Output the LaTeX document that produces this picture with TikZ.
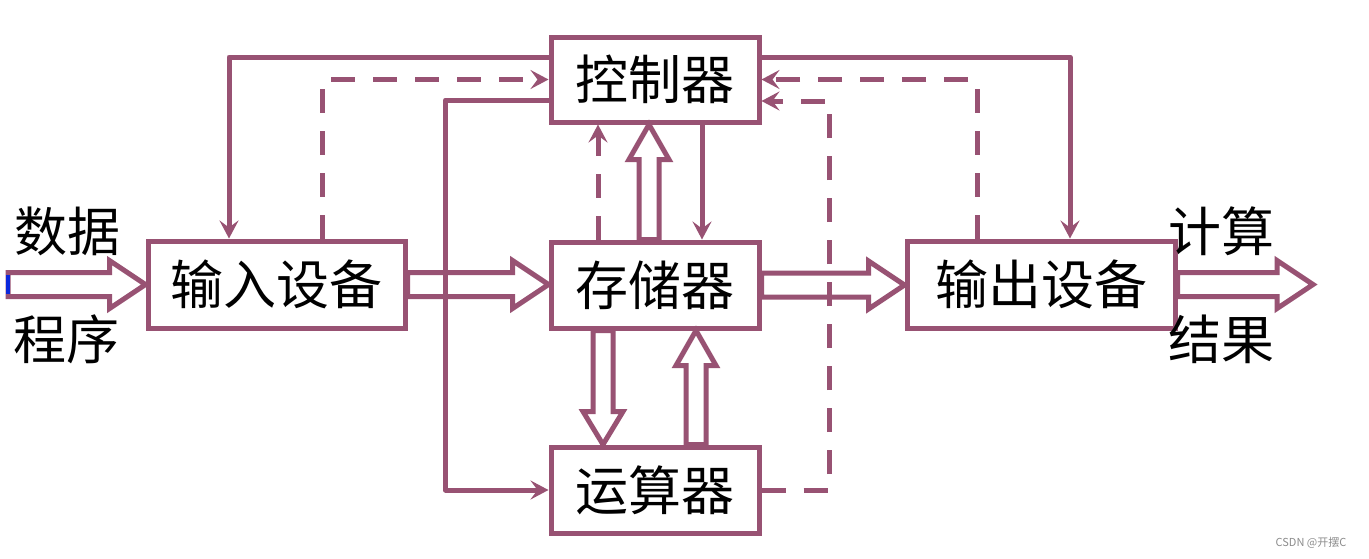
\documentclass[tikz,border=0pt]{standalone}
\usepackage{fontspec}
\newfontfamily\cjk{Noto Sans CJK SC}
\usetikzlibrary{arrows.meta,calc}
\definecolor{pl}{RGB}{152,82,115}
\definecolor{mk}{RGB}{10,40,220}
\tikzset{
  box/.style={draw=pl,line width=5pt,rectangle,inner sep=0pt,font=\cjk\fontsize{53}{56}\selectfont},
  lbl/.style={inner sep=0pt,font=\cjk\fontsize{53}{56}\selectfont},
  ln/.style={draw=pl,line width=5pt,line join=round},
  dsh/.style={ln,dash pattern=on 24pt off 18pt},
  tip/.style={-{Stealth[length=18pt,width=19pt,inset=7pt]}},
  hol/.style={draw=pl,line width=5pt,line join=miter}
}
\newcommand\harrow[2]{\draw[hol] let \p1=(#1), \p2=(#2) in
  (\x1,\y1+12pt) -- (\x2-36pt,\y1+12pt) -- (\x2-36pt,\y1+24pt) -- (\x2,\y1)
  -- (\x2-36pt,\y1-24pt) -- (\x2-36pt,\y1-12pt) -- (\x1,\y1-12pt) -- cycle;}
\newcommand\uparr[2]{\draw[hol] let \p1=(#1), \p2=(#2) in
  (\x1-10pt,\y1) -- (\x1-10pt,\y2-35pt) -- (\x1-20pt,\y2-35pt) -- (\x1,\y2)
  -- (\x1+20pt,\y2-35pt) -- (\x1+10pt,\y2-35pt) -- (\x1+10pt,\y1) -- cycle;}
\newcommand\dnarr[2]{\draw[hol] let \p1=(#1), \p2=(#2) in
  (\x1-10pt,\y1) -- (\x1-10pt,\y2+33pt) -- (\x1-20pt,\y2+33pt) -- (\x1,\y2)
  -- (\x1+20pt,\y2+33pt) -- (\x1+10pt,\y2+33pt) -- (\x1+10pt,\y1) -- cycle;}
\begin{document}
\begin{tikzpicture}[x=1pt,y=-1pt]
\useasboundingbox (0,0) rectangle (1369,558);
\fill[white] (0,0) rectangle (1369,558);

\node[box,minimum width=257pt,minimum height=87pt] (in) at (276.5,284.5) {输入设备};
\node[box,minimum width=208pt,minimum height=85pt] (ctrl) at (655,79.5) {控制器};
\node[box,minimum width=208pt,minimum height=86pt] (st) at (655,285) {存储器};
\node[box,minimum width=208pt,minimum height=86pt] (alu) at (655,490) {运算器};
\node[box,minimum width=268pt,minimum height=87pt] (out) at (1041,284.5) {输出设备};

\node[lbl] (l1) at (67,231) {数据};
\node[lbl] (l2) at (66,339) {程序};
\node[lbl] (l3) at (1221,231) {计算};
\node[lbl] (l4) at (1221,339) {结果};
\node[inner sep=0pt,text=black!45,font=\cjk\fontsize{11}{12}\selectfont] (wm) at (1311,543) {CSDN @开摆C};

\coordinate (src) at (8,284.5);
\coordinate (dst) at (1313,284.5);

% hollow arrows
\harrow{src}{in.west}
\harrow{in.east}{st.west}
\harrow{st.east}{out.west}
\harrow{out.east}{dst}
\uparr{[xshift=-6pt]st.north}{[xshift=-6pt]ctrl.south}
\dnarr{[xshift=-52pt]st.south}{[xshift=-52pt]alu.north}
\uparr{[xshift=41pt]alu.north}{[xshift=41pt]st.south}
\fill[mk] (5.5,275) rectangle (10,294);

% solid thin connectors
\draw[ln,tip] ([yshift=22.5pt]ctrl.west) -| ([xshift=-47.5pt]in.north);
\draw[ln,tip] ([yshift=22.5pt]ctrl.east) -| ([xshift=29pt]out.north);
\draw[ln,tip] ([yshift=-20.5pt]ctrl.west) -| ($(alu.west)+(-103,0)$) -- (alu.west);
\draw[ln,tip] ([xshift=47pt]ctrl.south) -- ([xshift=47pt]st.north);

% dashed connectors
\draw[dsh,tip] ([xshift=45.5pt]in.north) |- (ctrl.west);
\draw[dsh,tip] ([xshift=-64pt]out.north) |- (ctrl.east);
\draw[dsh,tip] (alu.east) -- ++(68,0) |- ([yshift=-21.5pt]ctrl.east);
\draw[dsh,tip] ([xshift=-57pt]st.north) -- ([xshift=-57pt]ctrl.south);
\end{tikzpicture}
\end{document}
